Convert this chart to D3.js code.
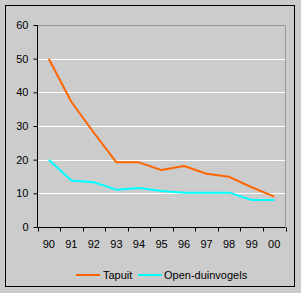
<!DOCTYPE html>
<html><head><meta charset="utf-8">
<script src="https://cdn.jsdelivr.net/npm/d3@7"></script>
<style>html,body{margin:0;padding:0;background:#cccccc;}svg{display:block;}</style>
</head><body>
<svg id="c" width="301" height="293"></svg>
<script>
const years = ["90","91","92","93","94","95","96","97","98","99","00"];
const tapuit = [50, 37.2, 28, 19.2, 19.2, 16.9, 18.1, 15.8, 14.9, 11.8, 9.0];
const openDuin = [20, 13.8, 13.3, 11.1, 11.6, 10.7, 10.2, 10.2, 10.2, 8.0, 8.0];
const yTicks = [0, 10, 20, 30, 40, 50, 60];
const seriesNames = ["Tapuit", "Open-duinvogels"];
const colors = ["#ff6600", "#00ffff"];

const svg = d3.select("#c");
const font = "'Liberation Sans', Arial, sans-serif";
svg.append("rect").attr("x",5.5).attr("y",5.5).attr("width",289).attr("height",281)
  .attr("fill","#cccccc").attr("stroke","#000").attr("stroke-width",1);

const L = 37.5, R = 285.5, T = 25, B = 227;
const x = d3.scaleBand().domain(years).range([L, R]);
const y = d3.scaleLinear().domain([0, 60]).range([B, T]);

// plot border (gray top/right)
svg.append("path").attr("d",`M${L},${T+0.5}H${R}V${B}`).attr("fill","none").attr("stroke","#999").attr("stroke-width",1);
// gridlines
svg.append("g").selectAll("line").data(yTicks.filter(v=>v>0 && v<60)).join("line")
  .attr("x1",L).attr("x2",R-0.5).attr("y1",d=>Math.round(y(d))+0.5).attr("y2",d=>Math.round(y(d))+0.5)
  .attr("stroke","#fff").attr("stroke-width",1);

// y axis
const ya = svg.append("g").attr("transform",`translate(${L},0)`)
  .call(d3.axisLeft(y).tickValues(yTicks).tickSize(4).tickPadding(5));
ya.selectAll("text").attr("font-family",font).attr("font-size","11px").attr("fill","#000");
ya.selectAll("line,path").attr("stroke","#000");
ya.select(".domain").attr("d",`M0,${T}V${B}`);

// x axis with ticks at band boundaries
const xa = svg.append("g").attr("transform",`translate(0,${B+0.5})`);
xa.append("line").attr("x1",L).attr("x2",R).attr("stroke","#000");
const bounds = years.map(d=>x(d)).concat([R]);
xa.selectAll("line.t").data(bounds).join("line").attr("class","t")
  .attr("x1",d=>Math.round(d)+0.5).attr("x2",d=>Math.round(d)+0.5).attr("y1",0).attr("y2",4).attr("stroke","#000");
xa.selectAll("text").data(years).join("text")
  .attr("x",d=>x(d)+x.bandwidth()/2).attr("y",20).attr("text-anchor","middle")
  .attr("font-family",font).attr("font-size","11px").text(d=>d);

const line = d3.line().x((d,i)=>x(years[i])+x.bandwidth()/2).y(d=>y(d));
[tapuit, openDuin].forEach((s,i)=>{
  svg.append("path").datum(s).attr("d",line).attr("fill","none")
    .attr("stroke",colors[i]).attr("stroke-width",2).attr("stroke-linejoin","round");
});

// legend
const lg = [{x1:76,x2:100,tx:103},{x1:138,x2:162,tx:164}];
seriesNames.forEach((n,i)=>{
  svg.append("line").attr("x1",lg[i].x1).attr("x2",lg[i].x2).attr("y1",275).attr("y2",275)
    .attr("stroke",colors[i]).attr("stroke-width",2);
  svg.append("text").attr("x",lg[i].tx).attr("y",279).attr("font-family",font).attr("font-size","11px").text(n);
});
</script>
</body></html>
